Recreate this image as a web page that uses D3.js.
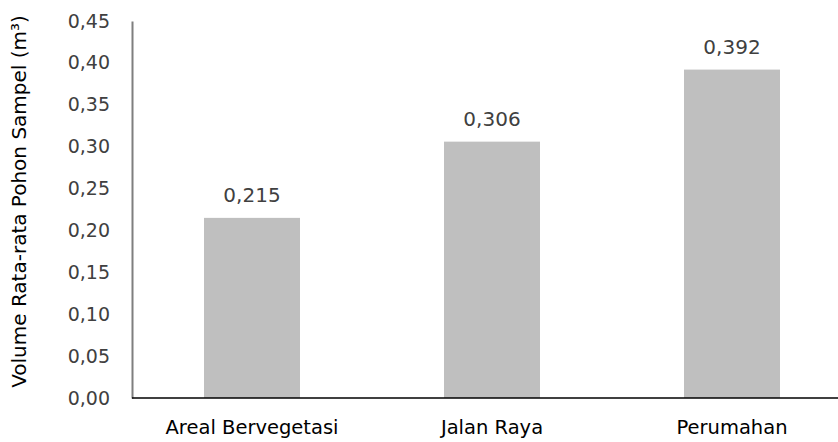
<!DOCTYPE html>
<html lang="en">
<head>
  <meta charset="UTF-8" />
  <title>Volume Rata-rata Pohon Sampel</title>
  <script src="https://d3js.org/d3.v7.min.js"></script>
  <style>
    body {
      margin: 0;
      background: #fff;
    }

    svg {
      display: block;
      font-family: "DejaVu Sans", sans-serif;
    }
  </style>
</head>
<body>
  <svg id="chart" width="838" height="442"></svg>

  <script>
    const categories = ["Areal Bervegetasi", "Jalan Raya", "Perumahan"];
    const volumes = [0.215, 0.306, 0.392];
    const yTicks = [0, 0.05, 0.10, 0.15, 0.20, 0.25, 0.30, 0.35, 0.40, 0.45];
    const yTitle = "Volume Rata-rata Pohon Sampel (m³)";

    const width = 838, height = 442;
    const margin = { top: 21, right: 0, bottom: 44, left: 132 };

    const svg = d3.select("#chart");

    const x = d3.scaleBand()
      .domain(categories)
      .range([margin.left, margin.left + 720])
      .paddingInner(0.6)
      .paddingOuter(0.3);

    const y = d3.scaleLinear()
      .domain([0, 0.45])
      .range([height - margin.bottom, margin.top]);

    const comma = v => v.toFixed(2).replace(".", ",");

    // bars
    svg.append("g")
      .selectAll("rect")
      .data(volumes)
      .join("rect")
      .attr("x", (d, i) => x(categories[i]))
      .attr("y", d => y(d))
      .attr("width", x.bandwidth())
      .attr("height", d => y(0) - y(d))
      .attr("fill", "#bfbfbf");

    // value labels
    svg.append("g")
      .selectAll("text")
      .data(volumes)
      .join("text")
      .attr("x", (d, i) => x(categories[i]) + x.bandwidth() / 2)
      .attr("y", d => y(d) - 16)
      .attr("text-anchor", "middle")
      .attr("font-size", 20)
      .attr("fill", "#404040")
      .text(d => String(d).replace(".", ","));

    // y axis
    const yAxis = svg.append("g")
      .attr("transform", `translate(${margin.left},0)`)
      .call(d3.axisLeft(y).tickValues(yTicks).tickFormat(comma).tickSize(0).tickPadding(22));
    yAxis.select(".domain").attr("stroke", "#7f7f7f").attr("stroke-width", 2);
    yAxis.selectAll("text")
      .attr("font-size", 19)
      .attr("font-family", "DejaVu Sans, sans-serif")
      .attr("fill", "#404040");

    // x axis
    const xAxis = svg.append("g")
      .attr("transform", `translate(0,${y(0)})`)
      .call(d3.axisBottom(x).tickSize(0).tickPadding(22));
    xAxis.select(".domain")
      .attr("d", `M${margin.left},0H${width}`)
      .attr("stroke", "#000")
      .attr("stroke-width", 1.5);
    xAxis.selectAll("text")
      .attr("font-size", 19.5)
      .attr("font-family", "DejaVu Sans, sans-serif")
      .attr("fill", "#000");

    // y title
    svg.append("text")
      .attr("transform", `translate(26,${(13 + 390) / 2}) rotate(-90)`)
      .attr("text-anchor", "middle")
      .attr("font-size", 20)
      .attr("fill", "#000")
      .text(yTitle);
  </script>
</body>
</html>
